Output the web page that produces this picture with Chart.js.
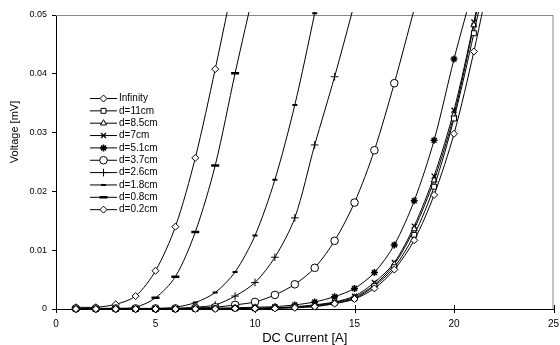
<!DOCTYPE html>
<html>
<head>
<meta charset="utf-8">
<script src="https://cdn.jsdelivr.net/npm/chart.js@4.4.1/dist/chart.umd.min.js"></script>
<style>
  body { margin: 0; background: #fff; }
  #wrap { width: 560px; height: 345px; }
</style>
</head>
<body>
<div id="wrap"><canvas id="chart" width="560" height="345"></canvas></div>
<script>
// DC current steps (A)
const current = [1, 2, 3, 4, 5, 6, 7, 8, 9, 10, 11, 12, 13, 14, 15, 16, 17, 18, 19, 20, 21, 22];

// measured voltage (mV), one list per sensor distance
const vInfinity = [0, 0, 0, 0, 0, 0, 0, 0, 0.0001, 0.0001, 0.0001, 0.0002, 0.0004, 0.0009, 0.0017, 0.0035, 0.0067, 0.0117, 0.0194, 0.0298, 0.0438, 0.060];
const vD11  = [0, 0, 0, 0, 0, 0, 0, 0.0001, 0.0001, 0.0001, 0.0002, 0.0003, 0.0005, 0.0010, 0.0018, 0.0039, 0.0071, 0.0126, 0.0208, 0.0324, 0.0469, 0.063];
const vD85  = [0, 0, 0, 0, 0, 0, 0.0001, 0.0001, 0.0001, 0.0001, 0.0002, 0.0003, 0.0006, 0.0011, 0.0020, 0.0041, 0.0076, 0.0136, 0.0219, 0.0330, 0.0483, 0.065];
const vD7   = [0, 0, 0, 0, 0, 0, 0.0001, 0.0001, 0.0001, 0.0001, 0.0002, 0.0004, 0.0007, 0.0012, 0.0022, 0.0045, 0.0079, 0.0141, 0.0226, 0.0338, 0.0488, 0.066];
const vD51  = [0, 0, 0, 0, 0, 0, 0.0001, 0.0001, 0.0002, 0.0003, 0.0004, 0.0007, 0.0012, 0.0021, 0.0035, 0.0062, 0.0109, 0.0184, 0.0287, 0.0425, 0.055];
const vD37  = [0.0001, 0.0001, 0.0001, 0.0001, 0.0001, 0.0001, 0.0002, 0.0003, 0.0007, 0.0012, 0.0024, 0.0042, 0.0070, 0.0116, 0.0181, 0.0270, 0.0384, 0.051];
const vD26  = [0, 0, 0, 0, 0.0001, 0.0001, 0.0003, 0.0007, 0.0022, 0.0045, 0.0088, 0.0155, 0.0279, 0.0395, 0.052];
const vD18  = [0.0001, 0.0001, 0.0001, 0.0001, 0.0001, 0.0003, 0.0011, 0.0028, 0.0063, 0.0125, 0.0220, 0.0347, 0.0503, 0.067];
const vD08  = [0.0001, 0.0001, 0.0001, 0.0003, 0.0019, 0.0055, 0.0131, 0.0244, 0.0401, 0.055];
const vD02  = [0.0003, 0.0003, 0.0008, 0.0022, 0.0065, 0.0140, 0.0257, 0.0408, 0.057];

const seriesLabels = ['Infinity', 'd=11cm', 'd=8.5cm', 'd=7cm', 'd=5.1cm', 'd=3.7cm', 'd=2.6cm', 'd=1.8cm', 'd=0.8cm', 'd=0.2cm'];
const seriesValues = [vInfinity, vD11, vD85, vD7, vD51, vD37, vD26, vD18, vD08, vD02];

const xTicks = [0, 5, 10, 15, 20, 25];
const yTicks = [0, 0.01, 0.02, 0.03, 0.04, 0.05];

// marker look per series: [pointStyle, radius, borderWidth]
const markers = [
    ['rectRot', 3.5, 1],
    ['rect', 3.5, 1],
    ['triangle', 3.5, 1],
    ['crossRot', 3.5, 1.3],
    ['star', 3.5, 1.5],
    ['circle', 3.8, 1],
    ['cross', 3.8, 1],
    ['line', 2.5, 2],
    ['line', 4, 2.5],
    ['rectRot', 3.5, 1]
];

const FONT = '"Liberation Sans", Arial, sans-serif';

const datasets = seriesLabels.map((label, i) => ({
    label: label,
    data: seriesValues[i].map((v, j) => ({ x: current[j], y: v })),
    borderColor: '#000',
    borderWidth: 1,
    backgroundColor: '#fff',
    pointStyle: markers[i][0],
    pointRadius: markers[i][1],
    pointBorderWidth: markers[i][2],
    pointBorderColor: '#000',
    pointBackgroundColor: '#fff',
    tension: 0.3,
    clip: { left: 0, top: 3, right: 0, bottom: 6 }
}));

// frame: gray top/right, x ticks crossing the axis, y title
const framePlugin = {
    id: 'frame',
    beforeDatasetsDraw(chart) {
        const { ctx, chartArea: a } = chart;
        ctx.save();
        ctx.strokeStyle = '#888';
        ctx.lineWidth = 1;
        ctx.beginPath();
        ctx.moveTo(a.left, a.top + 0.5);
        ctx.lineTo(a.right - 0.5, a.top + 0.5);
        ctx.lineTo(a.right - 0.5, a.bottom);
        ctx.stroke();
        ctx.strokeStyle = '#000';
        ctx.beginPath();
        xTicks.forEach(t => {
            const px = Math.round(chart.scales.x.getPixelForValue(t)) + 0.5;
            ctx.moveTo(px, a.bottom - 4);
            ctx.lineTo(px, a.bottom + 4);
        });
        ctx.stroke();

        ctx.translate(15, 132);
        ctx.rotate(-Math.PI / 2);
        ctx.font = '11px ' + FONT;
        ctx.fillStyle = '#000';
        ctx.textAlign = 'center';
        ctx.textBaseline = 'middle';
        ctx.fillText('Voltage [mV]', 0, 0);
        ctx.restore();
    }
};

// legend drawn inside the plot area
const legendPlugin = {
    id: 'innerLegend',
    afterDraw(chart) {
        const ctx = chart.ctx;
        const x0 = 90, x1 = 117, top = 98, step = 12.35;
        ctx.save();
        ctx.font = '10px ' + FONT;
        ctx.textBaseline = 'middle';
        chart.data.datasets.forEach((ds, i) => {
            const y = top + i * step;
            ctx.strokeStyle = '#000';
            ctx.lineWidth = 1;
            ctx.beginPath();
            ctx.moveTo(x0, y + 0.5);
            ctx.lineTo(x1, y + 0.5);
            ctx.stroke();
            ctx.fillStyle = '#fff';
            ctx.lineWidth = ds.pointBorderWidth;
            Chart.helpers.drawPoint(ctx, {
                pointStyle: ds.pointStyle,
                radius: ds.pointRadius,
                borderWidth: ds.pointBorderWidth,
                rotation: 0
            }, (x0 + x1) / 2, y + 0.5);
            ctx.fillStyle = '#000';
            ctx.fillText(ds.label, x1 + 2, y + 0.5);
        });
        ctx.restore();
    }
};

new Chart(document.getElementById('chart'), {
    type: 'line',
    data: { datasets: datasets },
    plugins: [framePlugin, legendPlugin],
    options: {
        responsive: false,
        animation: false,
        layout: { padding: { left: 0, top: 15, right: 4, bottom: 0 } },
        plugins: { legend: { display: false }, tooltip: { enabled: false } },
        scales: {
            x: {
                type: 'linear',
                min: 0, max: 25,
                afterBuildTicks: s => { s.ticks = xTicks.map(v => ({ value: v })); },
                afterFit: s => { s.height = 36; s.paddingLeft = 0; s.paddingRight = 0; },
                border: { display: true, color: '#000', width: 1 },
                grid: { display: false },
                ticks: {
                    color: '#000', padding: 1, maxRotation: 0,
                    font: { family: FONT, size: 10 }
                },
                title: {
                    display: true, text: 'DC Current [A]', color: '#000',
                    padding: { top: 0, bottom: 0 },
                    font: { family: FONT, size: 13, lineHeight: 1.0 }
                }
            },
            y: {
                min: 0, max: 0.05,
                afterBuildTicks: s => { s.ticks = yTicks.map(v => ({ value: v })); },
                afterFit: s => { s.width = 56; s.paddingTop = 0; s.paddingBottom = 0; },
                border: { display: true, color: '#000', width: 1 },
                grid: { display: true, drawOnChartArea: false, tickLength: 4, color: '#000' },
                ticks: {
                    color: '#000', padding: 5,
                    callback: v => String(+v.toFixed(2)),
                    font: { family: FONT, size: 9 }
                },
                title: { display: false }
            }
        }
    }
});
</script>
</body>
</html>
